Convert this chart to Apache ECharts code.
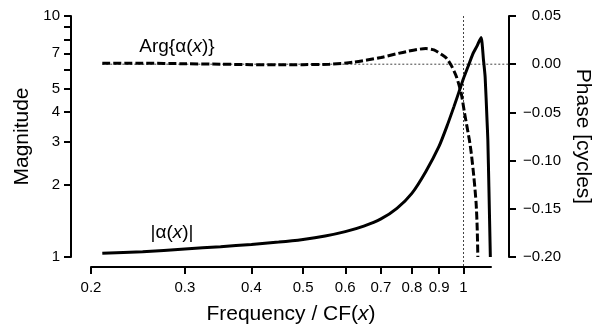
<!DOCTYPE html>
<html>
<head>
<meta charset="utf-8">
<script src="https://cdn.jsdelivr.net/npm/echarts@6/dist/echarts.min.js"></script>
<style>
    html, body { margin: 0; padding: 0; background: #fff; }
    #chart { width: 609px; height: 331px; }
</style>
</head>
<body>
<div id="chart"></div>
<script>
(function () {
    'use strict';

    // |alpha(x)| - magnitude (left, log axis)
    var magFreq = [0.21, 0.25, 0.3, 0.35, 0.4, 0.45, 0.5, 0.55, 0.6, 0.65, 0.7, 0.75, 0.8, 0.85, 0.9,
        0.93, 0.96, 0.98, 1.0, 1.02, 1.04, 1.06, 1.079, 1.09, 1.098, 1.107, 1.111, 1.116, 1.123];
    var magValues = [1.036, 1.052, 1.079, 1.104, 1.128, 1.153, 1.183, 1.222, 1.274, 1.343, 1.439, 1.592, 1.837, 2.265, 2.884,
        3.467, 4.217, 4.82, 5.50, 6.17, 6.92, 7.50, 8.14, 6.6, 5.59, 3.70, 3.05, 1.95, 1.0];

    // Arg{alpha(x)} - phase in cycles (right axis)
    var phaseFreq = [0.21, 0.25, 0.3, 0.35, 0.4, 0.45, 0.5, 0.56, 0.62, 0.7, 0.78, 0.85, 0.88, 0.91, 0.93,
        0.95, 0.97, 0.99, 1.004, 1.026, 1.034, 1.045, 1.056, 1.061, 1.064];
    var phaseValues = [0.001, 0.001, 0.0005, 0, -0.0005, -0.0007, -0.0005, 0, 0.002, 0.007, 0.013, 0.0162, 0.0148, 0.010, 0.006,
        -0.002, -0.013, -0.030, -0.050, -0.079, -0.092, -0.115, -0.144, -0.17, -0.2];

    // reference lines (x = 1, phase = 0)
    var refVertical = [[1, 0.05], [1, -0.2104]];
    var refHorizontal = [[0.21, 0], [1.2172, 0]];

    var freqTicks = [0.2, 0.3, 0.4, 0.5, 0.6, 0.7, 0.8, 0.9, 1];
    var magTicks = [1, 2, 3, 4, 5, 6, 7, 8, 9, 10];
    var magLabels = [1, 2, 3, 4, 5, 7, 10];

    var font = 'Liberation Sans, Arial, sans-serif';
    var ink = '#000';
    var rich = {
        i: { fontStyle: 'italic', fontSize: 21, fontFamily: font, color: ink }
    };

    var zip = function (xs, ys) {
        return xs.map(function (x, i) {
            return [x, ys[i]];
        });
    };

    var axisLine = { show: true, onZero: false, lineStyle: { color: '#000', width: 2 } };
    var axisTick = function (values) {
        return { show: true, length: 7, customValues: values, lineStyle: { color: '#000', width: 2 } };
    };

    var chart = echarts.init(document.getElementById('chart'), null, { renderer: 'canvas' });

    chart.setOption({
        animation: false,
        backgroundColor: '#fff',
        textStyle: { fontFamily: font },
        grid: [
            { left: 91, right: 118, top: 16, bottom: 74 },
            { left: 71, right: 100, top: 16, bottom: 64 }
        ],
        xAxis: [{
            type: 'log',
            gridIndex: 0,
            min: 0.2,
            max: 1.1262,
            offset: 10,
            axisLine: axisLine,
            axisTick: axisTick(freqTicks),
            minorTick: { show: false },
            splitLine: { show: false },
            axisLabel: {
                customValues: freqTicks,
                margin: 13,
                fontSize: 15,
                color: ink,
                fontFamily: font,
                formatter: function (v) {
                    return String(+(+v).toFixed(1));
                }
            },
            name: 'Frequency / CF({i|x})',
            nameLocation: 'middle',
            nameGap: 37,
            nameTextStyle: { fontSize: 21, color: ink, fontFamily: font, rich: rich }
        }, {
            type: 'log',
            gridIndex: 1,
            min: 0.18345,
            max: 1.2172,
            show: false
        }],
        yAxis: [{
            type: 'log',
            gridIndex: 0,
            position: 'left',
            min: 1,
            max: 10,
            offset: 20,
            axisLine: axisLine,
            axisTick: axisTick(magTicks),
            minorTick: { show: false },
            splitLine: { show: false },
            axisLabel: {
                customValues: magLabels,
                margin: 11,
                fontSize: 15,
                color: ink,
                fontFamily: font,
                formatter: function (v) {
                    return String(Math.round(v));
                }
            },
            name: 'Magnitude',
            nameLocation: 'middle',
            nameGap: 33,
            nameRotate: 90,
            nameTextStyle: { fontSize: 21, color: ink, fontFamily: font }
        }, {
            type: 'value',
            gridIndex: 0,
            position: 'right',
            min: -0.2,
            max: 0.05,
            interval: 0.05,
            offset: 18,
            axisLine: axisLine,
            axisTick: { show: true, length: 7, lineStyle: { color: '#000', width: 2 } },
            splitLine: { show: false },
            axisLabel: {
                margin: 52,
                align: 'right',
                fontSize: 15,
                color: ink,
                fontFamily: font,
                formatter: function (v) {
                    if (Math.abs(v) < 1e-9) {
                        return '0.00';
                    }
                    return (v < 0 ? '\u2212' : '') + Math.abs(v).toFixed(2);
                }
            },
            name: 'Phase [cycles]',
            nameLocation: 'middle',
            nameGap: 62,
            nameRotate: -90,
            nameTextStyle: { fontSize: 21, color: ink, fontFamily: font }
        }, {
            type: 'value',
            gridIndex: 1,
            min: -0.2104,
            max: 0.05,
            show: false
        }],
        series: [{
            type: 'line',
            xAxisIndex: 1,
            yAxisIndex: 2,
            data: refVertical,
            symbol: 'none',
            silent: true,
            z: 1,
            lineStyle: { color: '#444', width: 1, type: [2, 2] }
        }, {
            type: 'line',
            xAxisIndex: 1,
            yAxisIndex: 2,
            data: refHorizontal,
            symbol: 'none',
            silent: true,
            z: 1,
            lineStyle: { color: '#444', width: 1, type: [2, 2] }
        }, {
            name: 'magnitude',
            type: 'line',
            xAxisIndex: 0,
            yAxisIndex: 0,
            data: zip(magFreq, magValues),
            symbol: 'none',
            smooth: 0.2,
            z: 3,
            lineStyle: { color: '#000', width: 3 }
        }, {
            name: 'phase',
            type: 'line',
            xAxisIndex: 0,
            yAxisIndex: 1,
            data: zip(phaseFreq, phaseValues),
            symbol: 'none',
            smooth: 0.25,
            z: 3,
            lineStyle: { color: '#000', width: 3, type: [8, 3] }
        }],
        graphic: [{
            type: 'text',
            x: 177,
            y: 47,
            style: {
                text: 'Arg{\u03b1({i|x})}',
                fontSize: 19,
                fontFamily: font,
                fill: ink,
                align: 'center',
                verticalAlign: 'middle',
                rich: { i: { fontStyle: 'italic', fontSize: 19, fontFamily: font, fill: ink } }
            }
        }, {
            type: 'text',
            x: 172,
            y: 233,
            style: {
                text: '|\u03b1({i|x})|',
                fontSize: 19,
                fontFamily: font,
                fill: ink,
                align: 'center',
                verticalAlign: 'middle',
                rich: { i: { fontStyle: 'italic', fontSize: 19, fontFamily: font, fill: ink } }
            }
        }]
    });
}());
</script>
</body>
</html>
